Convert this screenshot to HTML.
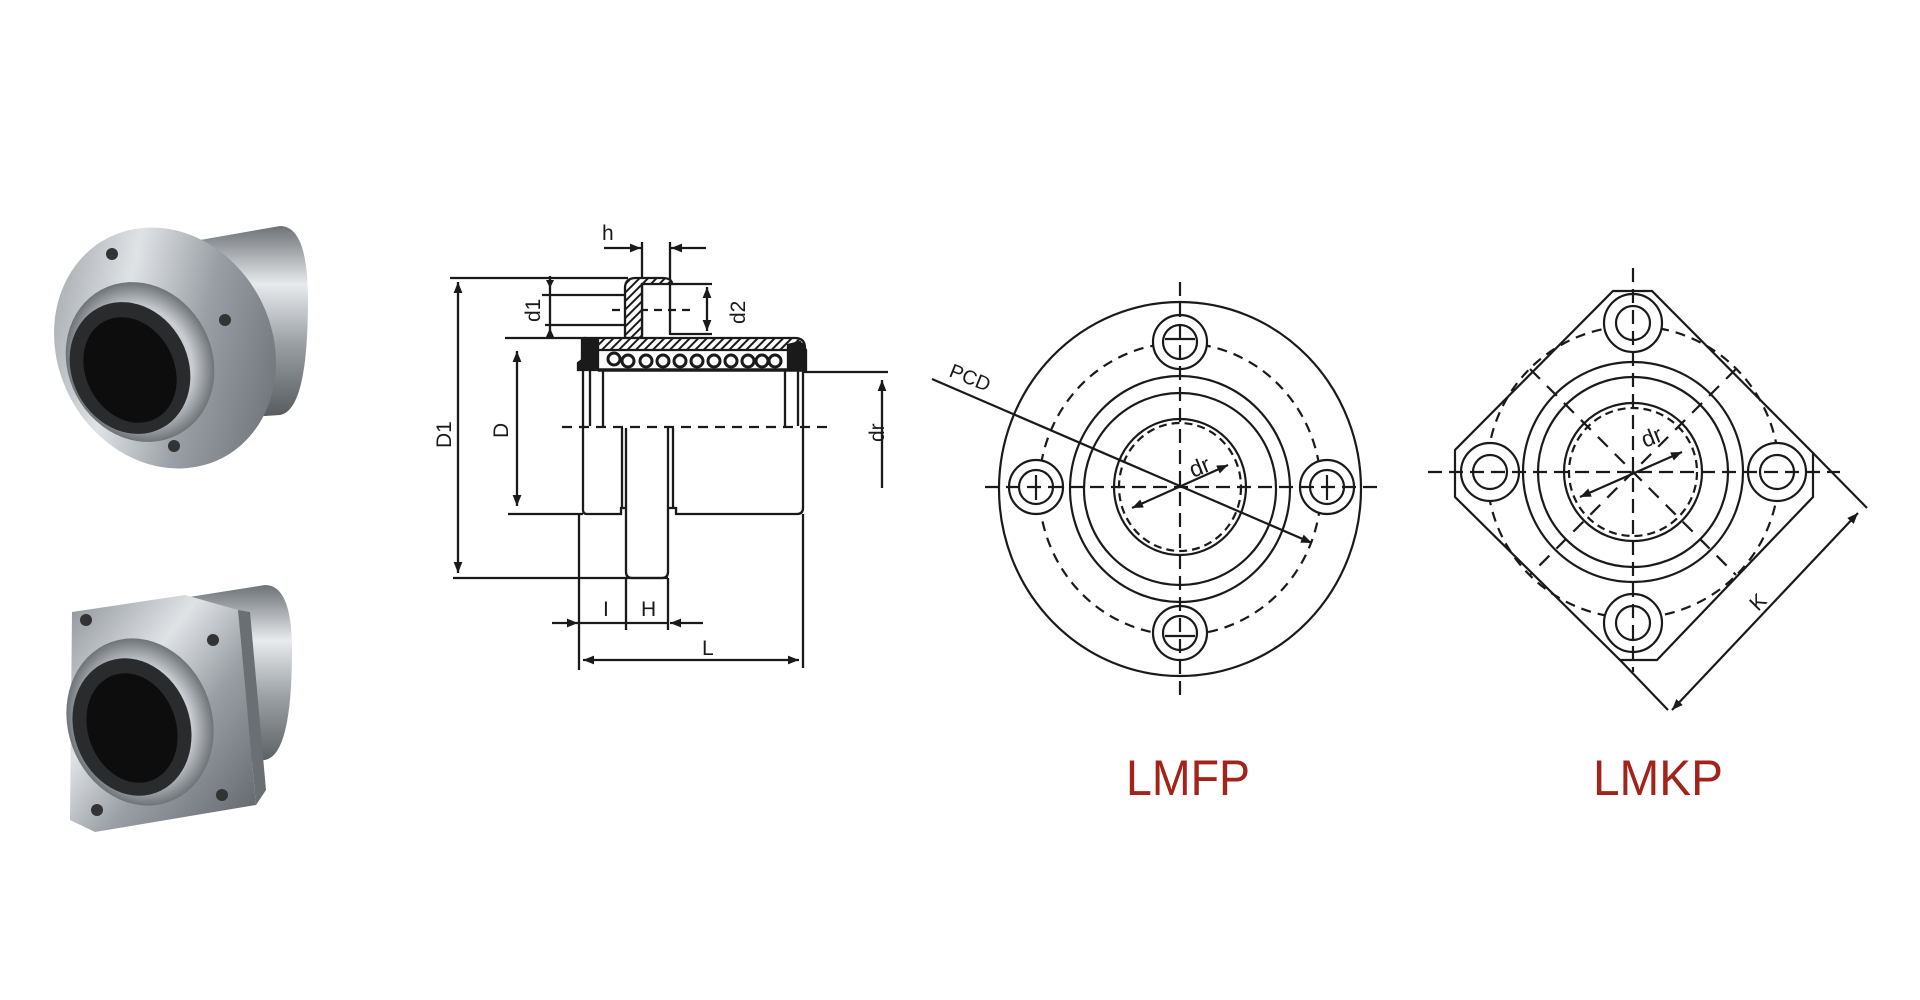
<!DOCTYPE html>
<html><head><meta charset="utf-8"><style>
html,body{margin:0;padding:0;background:#fff;}
svg{display:block;}
text{font-family:"Liberation Sans",sans-serif;fill:#1a1a1a;}
</style></head><body>
<svg width="1920" height="1000" viewBox="0 0 1920 1000" xmlns="http://www.w3.org/2000/svg">
<defs>
<pattern id="hat" width="6" height="6" patternUnits="userSpaceOnUse" patternTransform="rotate(45)">
<rect width="6" height="6" fill="#fff"/><rect width="2" height="6" fill="#1a1a1a"/></pattern>
<marker id="ar" viewBox="0 0 10 10" refX="10" refY="5" markerWidth="11" markerHeight="11" markerUnits="userSpaceOnUse" orient="auto-start-reverse"><path d="M0,1 L10,5 L0,9 z" fill="#1a1a1a"/></marker>
<linearGradient id="metal" x1="0" y1="0" x2="1" y2="1"><stop offset="0" stop-color="#8d9298"/><stop offset="0.35" stop-color="#dfe3e6"/><stop offset="0.6" stop-color="#9a9fa5"/><stop offset="1" stop-color="#5e6369"/></linearGradient>
<linearGradient id="cyl" x1="0" y1="0" x2="0" y2="1"><stop offset="0" stop-color="#6d7277"/><stop offset="0.3" stop-color="#e8ebed"/><stop offset="0.6" stop-color="#9ca1a6"/><stop offset="1" stop-color="#53585d"/></linearGradient>
<radialGradient id="ringg"><stop offset="0.7" stop-color="#c9cdd1"/><stop offset="1" stop-color="#6e7378"/></radialGradient>
</defs>

<!-- Photos -->
<g>
<path d="M200,240 L280,226 Q308,226 308,300 Q308,410 280,415 L205,420 Z" fill="url(#cyl)"/>
<ellipse cx="165" cy="348" rx="107" ry="124" fill="url(#metal)" transform="rotate(-28 165 348)"/>
<ellipse cx="140" cy="362" rx="72" ry="82" fill="url(#ringg)" transform="rotate(-28 140 362)"/>
<ellipse cx="130" cy="368" rx="58" ry="68" fill="#2a2b2d" transform="rotate(-28 130 368)"/>
<ellipse cx="130" cy="370" rx="44" ry="55" fill="#0d0d0e" transform="rotate(-28 130 370)"/>
<circle cx="112" cy="254" r="6" fill="#333"/><circle cx="225" cy="320" r="6" fill="#333"/><circle cx="174" cy="446" r="6" fill="#333"/>

<path d="M170,600 L265,585 Q292,585 292,650 Q292,755 265,760 L180,770 Z" fill="url(#cyl)"/>
<polygon points="72,612 185,595 238,610 256,805 95,832 70,820" fill="url(#metal)"/>
<polygon points="238,610 256,805 266,790 250,612" fill="#6a6f74"/>
<ellipse cx="140" cy="722" rx="72" ry="85" fill="url(#ringg)" transform="rotate(-20 140 722)"/>
<ellipse cx="132" cy="727" rx="58" ry="70" fill="#2a2b2d" transform="rotate(-20 132 727)"/>
<ellipse cx="132" cy="728" rx="44" ry="56" fill="#0d0d0e" transform="rotate(-20 132 728)"/>
<circle cx="86" cy="620" r="6" fill="#333"/><circle cx="213" cy="640" r="6" fill="#333"/><circle cx="97" cy="810" r="6" fill="#333"/><circle cx="222" cy="795" r="6" fill="#333"/>
</g>

<!-- Side section view -->
<g stroke="#1a1a1a" stroke-width="2.3" fill="none">
<line x1="450" y1="278" x2="628" y2="278"/>
<line x1="453" y1="578" x2="668" y2="578"/>
<line x1="458" y1="282" x2="458" y2="573" marker-start="url(#ar)" marker-end="url(#ar)"/>
<line x1="542" y1="295" x2="628" y2="295"/>
<line x1="545" y1="325" x2="628" y2="325"/>
<line x1="505" y1="338" x2="586" y2="338"/>
<line x1="550" y1="276" x2="550" y2="338"/>
<path d="M546,280 L554,280 L550,288 z M546,337 L554,337 L550,328 z" fill="#1a1a1a" stroke="none"/>
<line x1="604" y1="248" x2="641" y2="248" marker-end="url(#ar)"/>
<line x1="706" y1="248" x2="671" y2="248" marker-end="url(#ar)"/>
<line x1="642" y1="242" x2="642" y2="335"/>
<line x1="670" y1="242" x2="670" y2="335"/>
<line x1="670" y1="284" x2="712" y2="284"/>
<line x1="670" y1="334" x2="712" y2="334"/>
<line x1="707" y1="287" x2="707" y2="331" marker-start="url(#ar)" marker-end="url(#ar)"/>
<line x1="612" y1="310" x2="695" y2="310" stroke-dasharray="8,6"/>
<path d="M625,338 L625,288 Q625,278 636,278 L662,278 Q672,278 672,284 L642,284 L642,338 Z" fill="url(#hat)" stroke="#1a1a1a"/>
<path d="M585,338 L795,338 Q805,338 805,348 L805,350 L585,350 Z" fill="url(#hat)"/>
<path d="M582,340 L598,340 L598,370 L578,370 L578,363 L582,360 Z" fill="#1a1a1a"/>
<path d="M788,345 L800,342 L806,350 L806,370 L788,370 Z" fill="#1a1a1a"/>
<line x1="598" y1="370" x2="806" y2="370" stroke-width="3.5"/>
</g>
<g fill="#fff" stroke="#1a1a1a" stroke-width="3">
<circle cx="614" cy="359" r="6"/><circle cx="628" cy="361" r="6"/>
<circle cx="646" cy="361" r="6"/><circle cx="663" cy="361" r="6"/><circle cx="680" cy="361" r="6"/><circle cx="697" cy="361" r="6"/><circle cx="714" cy="361" r="6"/><circle cx="731" cy="361" r="6"/><circle cx="748" cy="361" r="6"/><circle cx="762" cy="361" r="6"/><circle cx="775" cy="361" r="6"/>
</g>
<g stroke="#1a1a1a" stroke-width="2.3" fill="none">
<line x1="583" y1="370" x2="583" y2="510"/>
<line x1="590" y1="370" x2="590" y2="426"/>
<line x1="603" y1="370" x2="603" y2="426"/>
<line x1="785" y1="370" x2="785" y2="426"/>
<line x1="798" y1="370" x2="798" y2="426"/>
<line x1="803" y1="370" x2="803" y2="508"/>
<path d="M583,510 Q583,514 587,514 L621,514 L621,508 L626,508"/>
<path d="M622,428 L622,508 M626,428 L626,572 Q626,578 632,578 L662,578 Q668,578 668,572 L668,428 M673,428 L673,508"/>
<path d="M668,508 L676,508 L676,514 L797,514 Q803,514 803,508"/>
<line x1="562" y1="427" x2="832" y2="427" stroke-dasharray="10,7"/>
<line x1="508" y1="514" x2="583" y2="514"/>
<line x1="517" y1="351" x2="517" y2="506" marker-start="url(#ar)" marker-end="url(#ar)"/>
<line x1="803" y1="372" x2="888" y2="372"/>
<line x1="882" y1="488" x2="882" y2="380" marker-end="url(#ar)"/>
<line x1="579" y1="514" x2="579" y2="670"/>
<line x1="626" y1="578" x2="626" y2="630"/>
<line x1="668" y1="578" x2="668" y2="630"/>
<line x1="803" y1="514" x2="803" y2="668"/>
<line x1="552" y1="623" x2="578" y2="623" marker-end="url(#ar)"/>
<line x1="703" y1="623" x2="670" y2="623" marker-end="url(#ar)"/>
<line x1="579" y1="623" x2="668" y2="623"/>
<line x1="583" y1="660" x2="799" y2="660" marker-start="url(#ar)" marker-end="url(#ar)"/>
</g>
<g font-size="21">
<text x="602" y="240">h</text>
<text x="603" y="616">I</text>
<text x="641" y="616">H</text>
<text x="702" y="655">L</text>
<text transform="translate(540,322) rotate(-90)">d1</text>
<text transform="translate(745,324) rotate(-90)">d2</text>
<text transform="translate(451,448) rotate(-90)">D1</text>
<text transform="translate(508,438) rotate(-90)">D</text>
<text transform="translate(884,442) rotate(-90)">dr</text>
</g>

<!-- LMFP -->
<g stroke="#1a1a1a" stroke-width="2.2" fill="none">
<ellipse cx="1180" cy="489" rx="181" ry="187"/>
<ellipse cx="1180" cy="489" rx="141" ry="146" stroke-dasharray="10,7"/>
<ellipse cx="1180" cy="489" rx="110" ry="113"/>
<ellipse cx="1180" cy="489" rx="96" ry="96"/>
<ellipse cx="1180" cy="487" rx="66" ry="68"/>
<ellipse cx="1180" cy="487" rx="61" ry="64" stroke-dasharray="8,5"/>
<circle cx="1180" cy="342" r="27" fill="#fff"/><circle cx="1180" cy="342" r="17"/>
<circle cx="1036" cy="487" r="27" fill="#fff"/><circle cx="1036" cy="487" r="17"/>
<circle cx="1327" cy="487" r="27" fill="#fff"/><circle cx="1327" cy="487" r="17"/>
<circle cx="1180" cy="633" r="27" fill="#fff"/><circle cx="1180" cy="633" r="17"/>
<line x1="1180" y1="282" x2="1180" y2="697" stroke-dasharray="14,7"/>
<line x1="985" y1="487" x2="1378" y2="487" stroke-dasharray="14,7"/>
<line x1="1165" y1="339" x2="1195" y2="339"/><line x1="1165" y1="636" x2="1195" y2="636"/>
<line x1="1036" y1="475" x2="1036" y2="500"/><line x1="1327" y1="475" x2="1327" y2="500"/>
<line x1="932" y1="379" x2="1312" y2="543" marker-end="url(#ar)"/>
<line x1="1132" y1="508" x2="1228" y2="465" marker-start="url(#ar)" marker-end="url(#ar)"/>
</g>
<text font-size="20" transform="translate(948,376) rotate(22)">PCD</text>
<text font-size="23" transform="translate(1193,478) rotate(-22)">dr</text>

<!-- LMKP -->
<g stroke="#1a1a1a" stroke-width="2.2" fill="none">
<polygon points="1613,291 1652,291 1813,453 1813,497 1657,660 1620,660 1455,497 1455,450"/>
<line x1="1813" y1="453" x2="1867" y2="508"/>
<line x1="1620" y1="660" x2="1668" y2="710"/>
<circle cx="1633" cy="472" r="146" stroke-dasharray="10,7"/>
<circle cx="1633" cy="472" r="110"/>
<circle cx="1633" cy="472" r="95"/>
<circle cx="1633" cy="472" r="69"/>
<circle cx="1633" cy="472" r="64" stroke-dasharray="8,5"/>
<circle cx="1633" cy="323" r="29" fill="#fff"/><circle cx="1633" cy="323" r="17"/>
<circle cx="1490" cy="472" r="29" fill="#fff"/><circle cx="1490" cy="472" r="17"/>
<circle cx="1777" cy="472" r="29" fill="#fff"/><circle cx="1777" cy="472" r="17"/>
<circle cx="1633" cy="623" r="29" fill="#fff"/><circle cx="1633" cy="623" r="17"/>
<line x1="1633" y1="268" x2="1633" y2="672" stroke-dasharray="14,7"/>
<line x1="1428" y1="472" x2="1840" y2="472" stroke-dasharray="14,7"/>
<line x1="1530" y1="369" x2="1736" y2="575" stroke-dasharray="14,10"/>
<line x1="1736" y1="369" x2="1530" y2="575" stroke-dasharray="14,10"/>
<line x1="1580" y1="497" x2="1682" y2="452" marker-start="url(#ar)" marker-end="url(#ar)"/>
<line x1="1858" y1="513" x2="1672" y2="710" marker-start="url(#ar)" marker-end="url(#ar)"/>
</g>
<text font-size="23" transform="translate(1645,448) rotate(-22)">dr</text>
<text font-size="21" transform="translate(1758,612) rotate(-45)">K</text>

<g font-size="50">
<text x="1126" y="795" textLength="124" lengthAdjust="spacingAndGlyphs" style="fill:#a3231a">LMFP</text>
<text x="1593" y="795" textLength="130" lengthAdjust="spacingAndGlyphs" style="fill:#a3231a">LMKP</text>
</g>
</svg>
</body></html>
